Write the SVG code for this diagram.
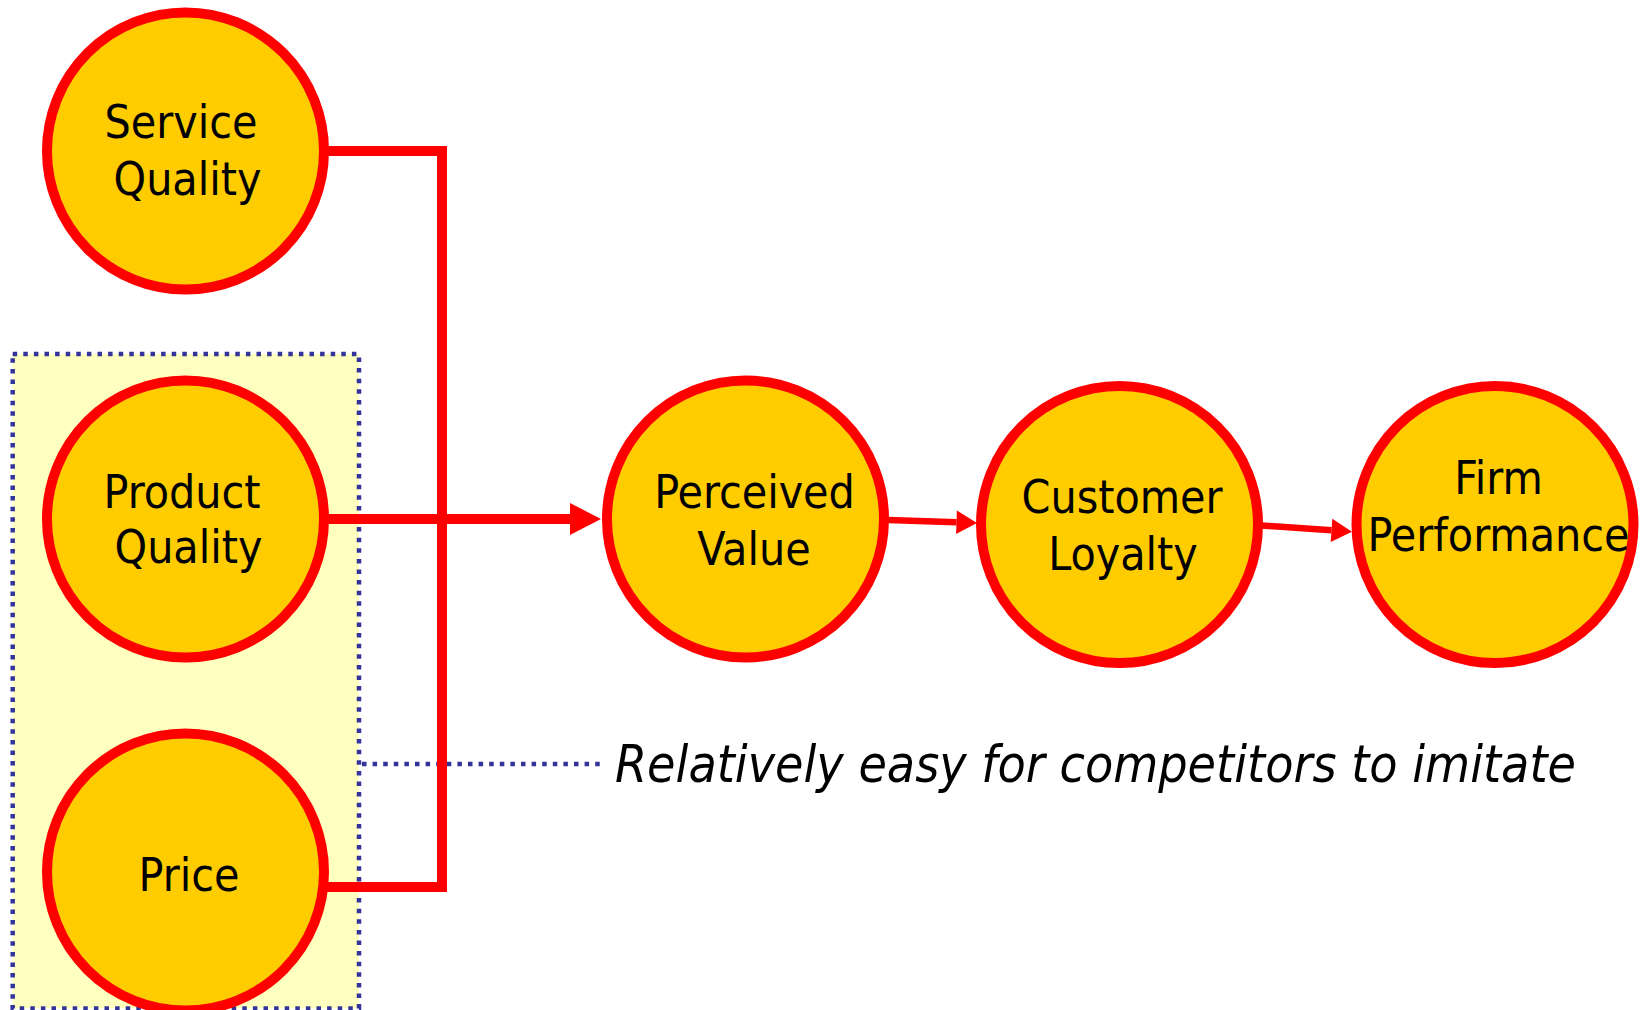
<svg xmlns="http://www.w3.org/2000/svg" width="1641" height="1010" viewBox="0 0 1641 1010">
  <style>
    .node circle { fill: #FFCC00; stroke: #FF0000; stroke-width: 10; }
    .node text, .note { font-family: 'DejaVu Sans Condensed', 'DejaVu Sans', sans-serif; font-stretch: condensed; fill: #000000; text-anchor: middle; font-size: 46px; }
    .note { text-anchor: start; font-style: italic; font-size: 51.5px; }
    .dots { fill: none; stroke: #333399; stroke-width: 4.5; stroke-dasharray: 4.5 6.1; }
    .link { fill: none; stroke: #FF0000; }
  </style>
  <defs>
    <marker id="headBig" markerUnits="userSpaceOnUse" markerWidth="32" markerHeight="34" refX="0" refY="16" orient="auto" overflow="visible">
      <polygon points="0,0 31,16 0,32" fill="#FF0000"/>
    </marker>
    <marker id="headSmall" markerUnits="userSpaceOnUse" markerWidth="23" markerHeight="25" refX="0" refY="11.7" orient="auto" overflow="visible">
      <polygon points="0,0 20.5,11.7 0,23.4" fill="#FF0000"/>
    </marker>
  </defs>

  <rect width="1641" height="1010" fill="#FFFFFF"/>

  <!-- shaded group of easily imitated drivers -->
  <g id="imitable-group">
    <rect x="12.7" y="354" width="346.3" height="654.5" fill="#FFFFC0"/>
    <rect class="dots" x="12.7" y="354" width="346.3" height="654.5"/>
    <line class="dots" x1="362" y1="764" x2="602" y2="764"/>
  </g>

  <!-- connectors -->
  <g id="connectors">
    <line class="link" stroke-width="10" x1="326" y1="151" x2="442" y2="151"/>
    <line class="link" stroke-width="10" x1="442" y1="146" x2="442" y2="892"/>
    <line class="link" stroke-width="10" x1="326" y1="887" x2="442" y2="887"/>
    <line class="link" stroke-width="10" x1="326" y1="519" x2="570" y2="519" marker-end="url(#headBig)"/>
    <line class="link" stroke-width="6.5" x1="888" y1="520" x2="956.5" y2="522.3" marker-end="url(#headSmall)"/>
    <line class="link" stroke-width="6.5" x1="1262" y1="525.5" x2="1331.5" y2="530.3" marker-end="url(#headSmall)"/>
  </g>

  <g id="service-quality" class="node">
    <circle cx="185.5" cy="151" r="138.5"/>
    <text x="181" y="138">Service</text>
    <text x="187.5" y="195">Quality</text>
  </g>

  <g id="product-quality" class="node">
    <circle cx="185.5" cy="519" r="138.5"/>
    <text x="182" y="508">Product</text>
    <text x="188.5" y="563">Quality</text>
  </g>

  <g id="price" class="node">
    <circle cx="185.5" cy="872" r="138.5"/>
    <text x="189" y="891">Price</text>
  </g>

  <g id="perceived-value" class="node">
    <circle cx="745.5" cy="519" r="138.5"/>
    <text x="754.5" y="508">Perceived</text>
    <text x="754" y="565">Value</text>
  </g>

  <g id="customer-loyalty" class="node">
    <circle cx="1119.5" cy="524.5" r="138.5"/>
    <text x="1122" y="513">Customer</text>
    <text x="1123" y="570">Loyalty</text>
  </g>

  <g id="firm-performance" class="node">
    <circle cx="1495" cy="524.5" r="138.5"/>
    <text x="1498.5" y="494">Firm</text>
    <text x="1498.5" y="551">Performance</text>
  </g>

  <text class="note" x="615" y="782" textLength="961" lengthAdjust="spacingAndGlyphs">Relatively easy for competitors to imitate</text>
</svg>
